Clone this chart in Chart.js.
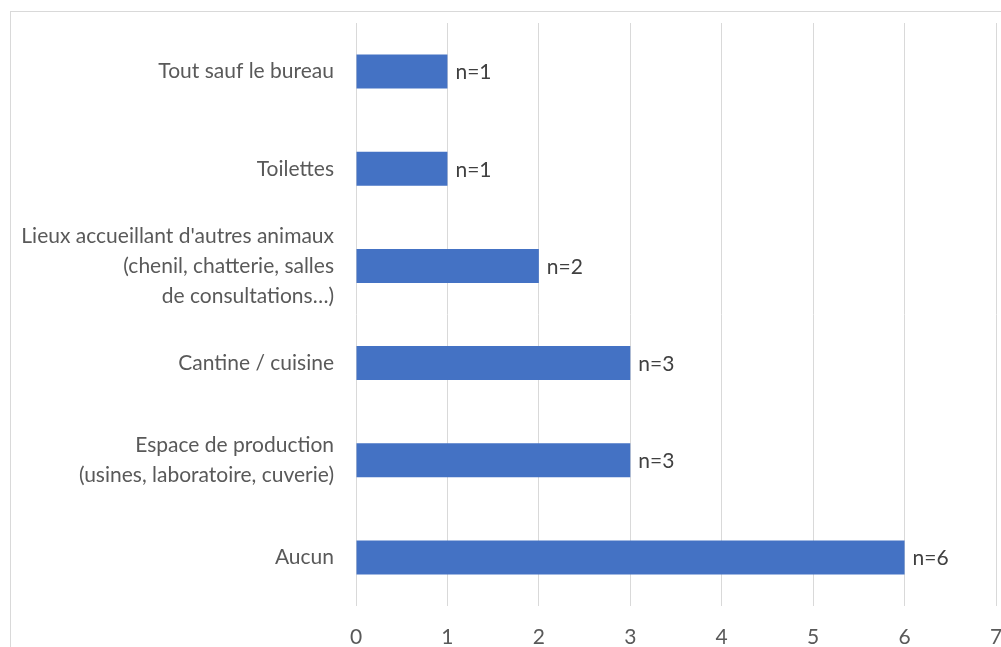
<!DOCTYPE html>
<html>
<head>
<meta charset="utf-8">
<script src="https://cdn.jsdelivr.net/npm/chart.js@4.4.1/dist/chart.umd.min.js"></script>
<style>
html,body{margin:0;padding:0;background:#fff;overflow:hidden;}
#frame{position:absolute;left:10px;top:11px;width:1100px;height:700px;border:1px solid #d9d9d9;box-sizing:border-box;}
#wrap{position:absolute;left:0;top:0;width:1001px;height:647px;}
</style>
</head>
<body>
<div id="frame"></div>
<div id="wrap"><canvas id="c" width="1001" height="647"></canvas></div>
<script>
const categories = [
  "Tout sauf le bureau",
  "Toilettes",
  ["Lieux accueillant d'autres animaux", "(chenil, chatterie, salles", "de consultations…)"],
  "Cantine / cuisine",
  ["Espace de production", "(usines, laboratoire, cuverie)"],
  "Aucun"
];
const values = [1, 1, 2, 3, 3, 6];
const valueLabels = ["n=1", "n=1", "n=2", "n=3", "n=3", "n=6"];
const xTicks = [0, 1, 2, 3, 4, 5, 6, 7];

const FONT = "Lato, sans-serif";

const labelPlugin = {
  id: 'barLabels',
  afterDatasetsDraw(chart) {
    const ctx = chart.ctx;
    const meta = chart.getDatasetMeta(0);
    ctx.save();
    ctx.font = "21px " + FONT;
    ctx.fillStyle = "#404040";
    ctx.textAlign = "left";
    ctx.textBaseline = "middle";
    meta.data.forEach((bar, i) => {
      ctx.fillText(valueLabels[i], bar.x + 8, bar.y + 1);
    });
    ctx.restore();
  }
};

new Chart(document.getElementById('c'), {
  type: 'bar',
  data: {
    labels: categories,
    datasets: [{
      data: values,
      backgroundColor: '#4472c4',
      borderWidth: 0,
      barPercentage: 0.35,
      categoryPercentage: 1.0
    }]
  },
  options: {
    indexAxis: 'y',
    responsive: false,
    animation: false,
    devicePixelRatio: 1,
    layout: { padding: { top: 23, right: 5, left: 0, bottom: 0 } },
    plugins: { legend: { display: false }, tooltip: { enabled: false } },
    scales: {
      x: {
        min: 0, max: 7,
        afterBuildTicks(scale) { scale.ticks = xTicks.map(v => ({ value: v })); },
        afterFit(scale) { scale.height = 41; scale.paddingLeft = 0; scale.paddingRight = 0; },
        grid: { color: '#d9d9d9', lineWidth: 1, drawTicks: false },
        border: { display: false },
        ticks: { color: '#595959', font: { family: FONT, size: 21 }, padding: 19 }
      },
      y: {
        afterFit(scale) { scale.width = 356; scale.paddingTop = 0; scale.paddingBottom = 0; },
        grid: { display: false, drawTicks: false },
        border: { display: false },
        ticks: { color: '#595959', font: { family: FONT, size: 21, lineHeight: 1.43 }, padding: 22 }
      }
    }
  },
  plugins: [labelPlugin]
});
</script>
</body>
</html>
